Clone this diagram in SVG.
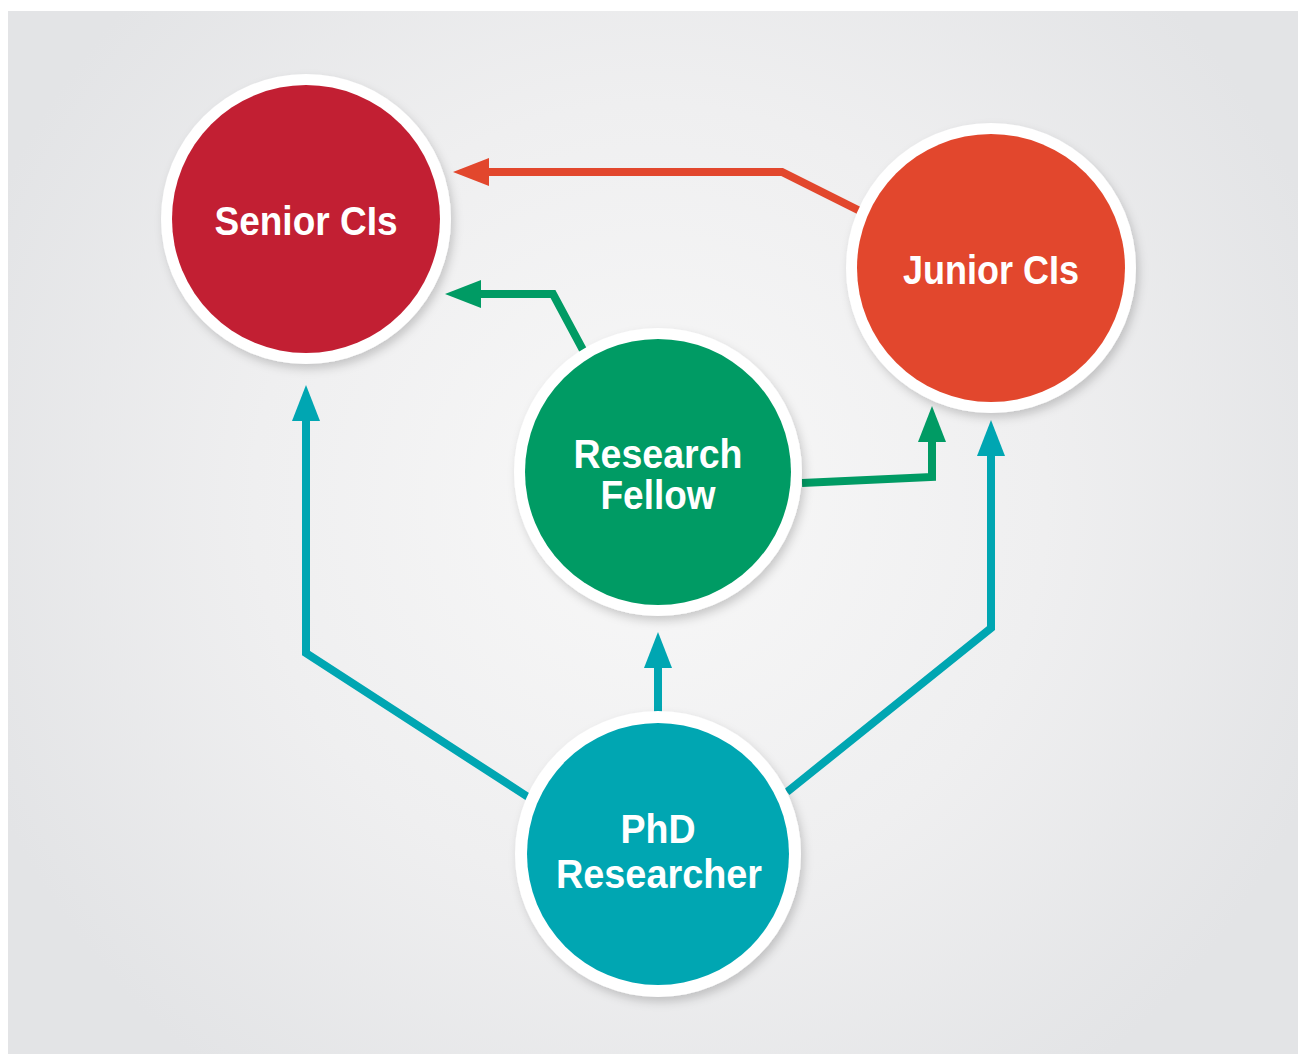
<svg xmlns="http://www.w3.org/2000/svg" width="1298" height="1054" viewBox="0 0 1298 1054">
<defs>
<radialGradient id="bg" cx="650" cy="500" r="720" gradientUnits="userSpaceOnUse">
<stop offset="0" stop-color="#f8f8f8"/>
<stop offset="0.55" stop-color="#efeff0"/>
<stop offset="1" stop-color="#e3e4e6"/>
</radialGradient>
<filter id="sh" x="-20%" y="-20%" width="140%" height="140%">
<feDropShadow dx="3" dy="5" stdDeviation="5" flood-color="#000" flood-opacity="0.18"/>
</filter>
<marker id="aRed" markerUnits="userSpaceOnUse" markerWidth="40" markerHeight="30" refX="0" refY="14" orient="auto" viewBox="0 0 40 28">
<path d="M0,0 L36,14 L0,28 z" fill="#e2472d"/>
</marker>
<marker id="aGreen" markerUnits="userSpaceOnUse" markerWidth="40" markerHeight="30" refX="0" refY="14" orient="auto" viewBox="0 0 40 28">
<path d="M0,0 L36,14 L0,28 z" fill="#009b64"/>
</marker>
<marker id="aTeal" markerUnits="userSpaceOnUse" markerWidth="40" markerHeight="30" refX="0" refY="14" orient="auto" viewBox="0 0 40 28">
<path d="M0,0 L36,14 L0,28 z" fill="#00a6b2"/>
</marker>
</defs>
<style>
.ring{fill:#ffffff;filter:url(#sh)}
.lbl{font-family:"Liberation Sans",Arial,sans-serif;font-weight:bold;font-size:41px;fill:#ffffff;text-anchor:middle}
.c{fill:none;stroke-width:8;stroke-linejoin:miter}
.red{stroke:#e2472d}
.green{stroke:#009b64}
.teal{stroke:#00a6b2}
</style>
<rect x="8" y="11" width="1290" height="1043" fill="url(#bg)"/>
<g id="connectors">
<path class="c red" d="M860,211 L782,172 L489,172" marker-end="url(#aRed)"/>
<path class="c green" d="M583,350 L553,294 L481,294" marker-end="url(#aGreen)"/>
<path class="c green" d="M802,483 L932,477 L932,442" marker-end="url(#aGreen)"/>
<path class="c teal" d="M528,797 L306,653 L306,421" marker-end="url(#aTeal)"/>
<path class="c teal" d="M658,712 L658,668" marker-end="url(#aTeal)"/>
<path class="c teal" d="M787,792 L991,628 L991,456" marker-end="url(#aTeal)"/>
</g>
<g id="senior">
<circle class="ring" cx="306" cy="219" r="145"/>
<circle cx="306" cy="219" r="134" fill="#c21f33"/>
<text class="lbl" x="306" y="235" textLength="183" lengthAdjust="spacingAndGlyphs">Senior CIs</text>
</g>
<g id="junior">
<circle class="ring" cx="991" cy="268" r="145"/>
<circle cx="991" cy="268" r="134" fill="#e2472d"/>
<text class="lbl" x="991" y="284" textLength="176" lengthAdjust="spacingAndGlyphs">Junior CIs</text>
</g>
<g id="fellow">
<circle class="ring" cx="658" cy="472" r="144"/>
<circle cx="658" cy="472" r="133" fill="#009b64"/>
<text class="lbl" x="658" y="468" textLength="169" lengthAdjust="spacingAndGlyphs">Research</text>
<text class="lbl" x="658" y="509" textLength="115" lengthAdjust="spacingAndGlyphs">Fellow</text>
</g>
<g id="phd">
<circle class="ring" cx="658" cy="854" r="143"/>
<circle cx="658" cy="854" r="131" fill="#00a6b2"/>
<text class="lbl" x="658" y="843" textLength="75" lengthAdjust="spacingAndGlyphs">PhD</text>
<text class="lbl" x="659" y="888" textLength="206" lengthAdjust="spacingAndGlyphs">Researcher</text>
</g>
</svg>
